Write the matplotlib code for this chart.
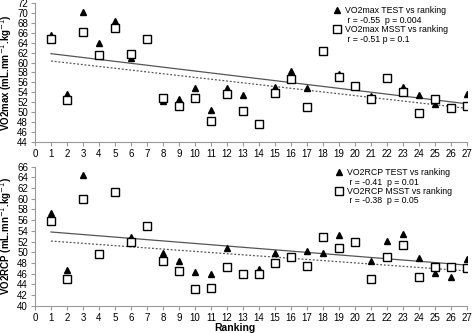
import numpy as np
import matplotlib
matplotlib.use("Agg")
import matplotlib.pyplot as plt
from matplotlib.lines import Line2D

plt.rcParams['font.family'] = ['Liberation Sans', 'DejaVu Sans']

ranking = list(range(1, 28))

vo2max_test = [65.6, 53.6, 70.1, 64.0, 68.4, 61.0, 64.7, 52.3, 52.7, 54.9, 50.5, 54.9, 53.5,
               47.7, 55.0, 58.4, 54.8, 62.4, 57.6, 55.3, 53.3, 56.8, 55.0, 53.5, 51.7, 50.9, 53.6]
vo2max_msst = [64.8, 52.5, 66.2, 61.5, 67.0, 61.8, 64.7, 52.8, 51.3, 52.8, 48.2, 53.7, 50.3,
               47.7, 53.8, 56.7, 51.1, 62.4, 57.0, 55.3, 52.6, 56.8, 54.0, 49.9, 52.7, 50.9, 51.3]

vo2rcp_test = [57.3, 46.7, 64.4, 49.7, 61.2, 52.8, 54.9, 49.9, 48.4, 46.3, 46.0, 50.7, 45.9,
               46.8, 49.8, 49.1, 50.3, 49.9, 53.3, 51.9, 48.4, 52.1, 53.5, 48.9, 46.2, 45.4, 48.8]
vo2rcp_msst = [55.8, 44.9, 60.0, 49.7, 61.2, 52.0, 54.9, 48.4, 46.4, 43.1, 43.4, 47.2, 45.9,
               45.9, 47.9, 49.1, 47.5, 52.9, 50.7, 51.9, 45.0, 49.2, 51.4, 45.3, 47.2, 47.2, 47.0]

top_labels = ["VO2max TEST vs ranking", " r = -0.55  p = 0.004",
              "VO2max MSST vs ranking", " r = -0.51 p = 0.1"]
bot_labels = ["VO2RCP TEST vs ranking", " r = -0.41  p = 0.01",
              "VO2RCP MSST vs ranking", " r = -0.38  p = 0.05"]

fig = plt.figure(figsize=(4.73, 3.33), dpi=100)
ax1 = fig.add_axes([0.074, 0.5736, 0.913, 0.4174])
ax2 = fig.add_axes([0.074, 0.082, 0.913, 0.4174])


def draw(ax, test, msst, ylim, ylabel, labels, anchor):
    x = np.array(ranking)
    ax.plot(x, test, linestyle='none', marker='^', color='black', markersize=5, zorder=3)
    ax.plot(x, msst, linestyle='none', marker='s', markerfacecolor='white',
            markeredgecolor='black', markersize=5.5, markeredgewidth=1, zorder=4)
    xl = np.array([1, 27])
    a, b = np.polyfit(x, test, 1)
    ax.plot(xl, a * xl + b, color='#555555', lw=0.9, zorder=2)
    a, b = np.polyfit(x, msst, 1)
    ax.plot(xl, a * xl + b, color='#555555', lw=0.9, linestyle=(0, (1.5, 1.5)), zorder=2)

    ax.set_xlim(0, 27)
    ax.set_ylim(*ylim)
    ax.set_xticks(range(0, 28))
    ax.set_yticks(range(ylim[0], ylim[1] + 1, 2))
    ax.tick_params(labelsize=7, length=3, color='#999999', pad=2)
    for s in ['top', 'right']:
        ax.spines[s].set_visible(False)
    for s in ['left', 'bottom']:
        ax.spines[s].set_color('#999999')
        ax.spines[s].set_linewidth(0.8)
    ax.set_ylabel(ylabel, fontsize=7, fontweight='bold', labelpad=2)

    blank = Line2D([], [], linestyle='none')
    handles = [Line2D([], [], linestyle='none', marker='^', color='black', markersize=5),
               blank,
               Line2D([], [], linestyle='none', marker='s', markerfacecolor='white',
                      markeredgecolor='black', markersize=5.5),
               blank]
    ax.legend(handles, labels, loc='upper left', bbox_to_anchor=anchor, frameon=False,
              fontsize=6.3, handlelength=0.8, handletextpad=0.5, labelspacing=0.05,
              borderpad=0.0, borderaxespad=0.0)


draw(ax1, vo2max_test, vo2max_msst, (44, 72), "VO2max (mL.mn$^{-1}$.kg$^{-1}$)", top_labels,
     (0.692, 0.975))
draw(ax2, vo2rcp_test, vo2rcp_msst, (40, 66), "VO2RCP (mL.mn$^{-1}$.kg$^{-1}$)", bot_labels,
     (0.695, 0.99))
ax2.set_xlabel("Ranking", fontsize=7.5, fontweight='bold', va='center')
ax2.xaxis.set_label_coords(0.463, -0.16)

fig.savefig("out.png", dpi=100)
